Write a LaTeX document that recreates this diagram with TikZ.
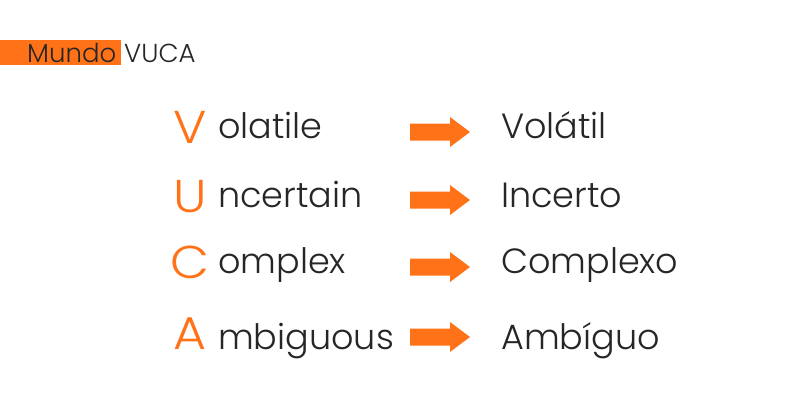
\documentclass[tikz,border=0pt]{standalone}
\usepackage{fontspec}
\setmainfont{Poppins}[UprightFont={* Light}]
\newfontfamily\initfont{Poppins}[UprightFont={* Light},FakeStretch=1.1]
\definecolor{vorange}{HTML}{FF7217}
\definecolor{vtext}{HTML}{262626}
\begin{document}
\begin{tikzpicture}[x=1pt,y=-1pt,
  word/.style={inner sep=0pt,anchor=base west,text=vtext,font=\fontsize{35}{38}\selectfont},
  initial/.style={inner sep=0pt,anchor=base west,text=vorange,font=\initfont\fontsize{46}{48}\selectfont},
  title/.style={inner sep=0pt,anchor=base west,text=vtext,font=\fontsize{26}{28}\selectfont},
  arrowfill/.style={fill=vorange,draw=none}]
\useasboundingbox (0,0) rectangle (800,400);
\fill[white] (0,0) rectangle (800,400);
% title bar
\fill[vorange] (0,40) rectangle (121,65);
\node[title] (mundo) at (27,62) {Mundo};
\node[title] (vuca) at (124,62) {VUCA};
% rows: baseline, initial x, initial baseline, arrow centre, initial, rest, translation
\foreach \b/\ix/\ib/\ac/\ini/\rest/\tr/\n in {
  138/173/143/132/V/olatile/Volátil/1,
  207/173/212/200/U/ncertain/Incerto/2,
  273/170/278/267/C/omplex/Complexo/3,
  349/173/349/337/A/mbiguous/Ambíguo/4}{
  \node[initial] (ini\n) at (\ix,\ib) {\ini};
  \node[word] (en\n) at (218,\b) {\rest};
  \node[word] (pt\n) at (501,\b) {\tr};
  \coordinate (arr\n) at (410,\ac);
  \fill[arrowfill] (arr\n) ++(0,-8.5) -- ++(40,0) -- ++(0,-6.5) -- ++(20,15)
    -- ++(-20,15) -- ++(0,-6.5) -- ++(-40,0) -- cycle;
}
\end{tikzpicture}
\end{document}
